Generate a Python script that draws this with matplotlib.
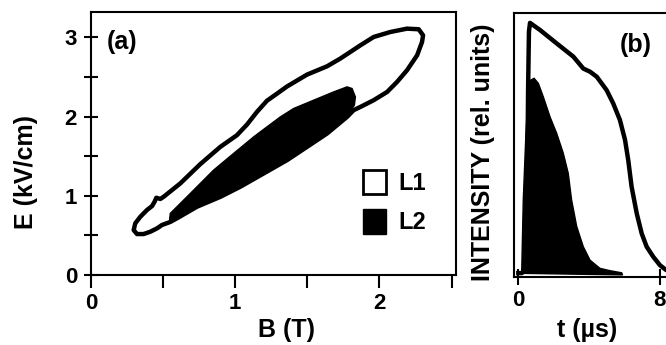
import numpy as np
import matplotlib.pyplot as plt
from matplotlib.patches import Patch

plt.rcParams['font.family'] = ['Liberation Sans', 'DejaVu Sans']
plt.rcParams['font.weight'] = 'bold'

# (a) E-B regions (B in T, E in kV/cm)
l1_b = [0.296, 0.307, 0.342, 0.388, 0.423, 0.441, 0.453, 0.481, 0.504, 0.619,
        0.758, 0.897, 1.012, 1.082, 1.151, 1.220, 1.290, 1.359, 1.498, 1.637,
        1.729, 1.868, 1.960, 2.076, 2.191, 2.272, 2.302, 2.295, 2.261, 2.191,
        2.122, 2.053, 1.960, 1.868, 1.821, 1.775, 1.637, 1.498, 1.359, 1.197,
        1.035, 0.897, 0.735, 0.600, 0.550, 0.492, 0.458, 0.411, 0.365, 0.319]
l1_e = [0.567, 0.652, 0.735, 0.820, 0.870, 0.925, 0.975, 0.960, 0.988, 1.156,
        1.400, 1.618, 1.765, 1.900, 2.060, 2.200, 2.290, 2.380, 2.530, 2.635,
        2.733, 2.900, 3.005, 3.068, 3.110, 3.102, 3.026, 2.942, 2.774, 2.585,
        2.438, 2.311, 2.207, 2.122, 2.081, 1.996, 1.787, 1.618, 1.450, 1.282,
        1.114, 0.987, 0.862, 0.720, 0.670, 0.631, 0.589, 0.546, 0.517, 0.517]

l2_b = [0.545, 0.550, 0.689, 0.850, 0.989, 1.128, 1.220, 1.313, 1.405, 1.544,
        1.682, 1.775, 1.810, 1.833, 1.826, 1.775, 1.637, 1.498, 1.359, 1.197,
        1.035, 0.897, 0.735, 0.600, 0.555]
l2_e = [0.700, 0.778, 1.030, 1.324, 1.535, 1.744, 1.870, 1.996, 2.102, 2.207,
        2.311, 2.375, 2.354, 2.248, 2.144, 2.010, 1.800, 1.630, 1.462, 1.294,
        1.126, 0.999, 0.874, 0.730, 0.680]

# (b) intensity vs time (t in us, relative units)
t_l1 = [0.0, 0.2, 0.45, 0.50, 0.55, 0.60, 0.66, 1.225, 2.17, 3.11, 3.67, 4.05,
        4.43, 4.99, 5.36, 5.74, 6.03, 6.21, 6.40, 6.69, 6.97, 7.25, 7.62, 8.0,
        8.34, 8.6]
i_l1 = [0.015, 0.015, 0.03, 0.30, 0.70, 0.93, 0.963, 0.936, 0.885, 0.835,
        0.790, 0.778, 0.759, 0.708, 0.658, 0.595, 0.519, 0.443, 0.342, 0.241,
        0.165, 0.115, 0.077, 0.045, 0.027, 0.02]

t_l2 = [0.19, 0.28, 0.43, 0.56, 0.70, 0.89, 1.13, 1.41, 1.79, 2.17, 2.54, 2.82,
        3.01, 3.30, 3.67, 4.05, 4.61, 5.18, 5.84, 5.89]
i_l2 = [0.014, 0.292, 0.544, 0.696, 0.746, 0.753, 0.734, 0.683, 0.607, 0.544,
        0.469, 0.393, 0.292, 0.191, 0.115, 0.064, 0.033, 0.024, 0.016, 0.008]

fig = plt.figure(figsize=(6.66, 3.45), dpi=100)
ax = fig.add_axes([0.1366, 0.2029, 0.548, 0.7623])
ay = fig.add_axes([0.7718, 0.197, 0.243, 0.765])

for a in (ax, ay):
    for s in a.spines.values():
        s.set_linewidth(1.5)

# panel (a)
ax.fill(l1_b, l1_e, facecolor='white', edgecolor='black', linewidth=3.2, joinstyle='round')
ax.fill(l2_b, l2_e, facecolor='black', edgecolor='black', linewidth=1)
ax.set_xlim(0, 2.53)
ax.set_ylim(0, 3.32)
ax.set_xticks(np.arange(0, 2.6, 0.5), ['0', '', '1', '', '2', ''])
ax.set_yticks(np.arange(0, 3.1, 0.5), ['0', '', '1', '', '2', '', '3'])
ax.tick_params(axis='x', direction='out', length=9, width=1.5, pad=4, labelsize=16)
ax.tick_params(axis='y', direction='inout', length=10, width=1.5, pad=5, labelsize=16)
ax.set_xlabel('B (T)', fontsize=18, fontweight='bold')
ax.set_ylabel('E (kV/cm)', fontsize=18, fontweight='bold')
ax.xaxis.set_label_coords(0.537, -0.163)
ax.yaxis.set_label_coords(-0.145, 0.393)
ax.text(0.106, 2.94, '(a)', fontsize=18, fontweight='bold', va='center')

handles = [Patch(facecolor='white', edgecolor='black', linewidth=2),
           Patch(facecolor='black', edgecolor='black')]
ax.legend(handles, ['L1', 'L2'], loc='upper left', bbox_to_anchor=(0.745, 0.399),
          frameon=False, handlelength=1.0, handleheight=1.2,
          labelspacing=0.6, handletextpad=0.5, borderpad=0, borderaxespad=0,
          prop={'weight': 'bold', 'size': 17})

# panel (b)
ay.plot(t_l1, i_l1, color='black', linewidth=3.2, solid_joinstyle='round')
ay.fill(t_l2, i_l2, color='black')
ay.set_xlim(-0.243, 8.9)
ay.set_ylim(0, 1)
ay.set_yticks([])
ay.set_xticks([0, 8], ['0', '8'])
ay.tick_params(axis='x', direction='inout', length=12, width=1.5, pad=3, labelsize=16)
ay.set_xlabel('t (\u00b5s)', fontsize=18, fontweight='bold')
ay.set_ylabel('INTENSITY (rel. units)', fontsize=18, fontweight='bold')
ay.xaxis.set_label_coords(0.449, -0.155)
ay.yaxis.set_label_coords(-0.117, 0.472)
ay.text(5.74, 0.879, '(b)', fontsize=18, fontweight='bold', va='center')

fig.savefig('out.png', dpi=100)
